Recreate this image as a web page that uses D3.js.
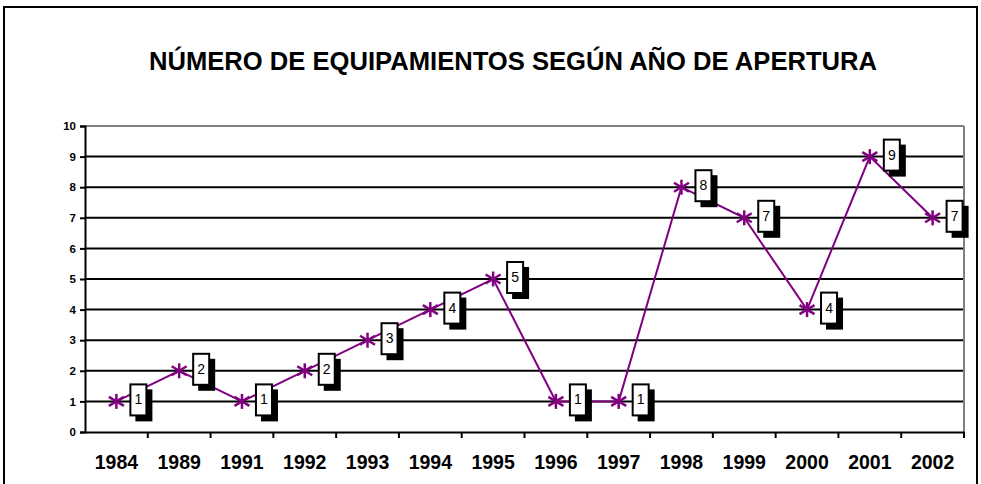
<!DOCTYPE html>
<html><head><meta charset="utf-8">
<script src="https://cdn.jsdelivr.net/npm/d3@7"></script>
<style>body{margin:0;background:#fff}svg{display:block}</style>
</head><body>
<script>
const years = ["1984","1989","1991","1992","1993","1994","1995","1996","1997","1998","1999","2000","2001","2002"];
const counts = [1,2,1,2,3,4,5,1,1,8,7,4,9,7];
const yTicks = [0,1,2,3,4,5,6,7,8,9,10];
const title = "NÚMERO DE EQUIPAMIENTOS SEGÚN AÑO DE APERTURA";

const W = 981, H = 484;
const svg = d3.select("body").append("svg").attr("width", W).attr("height", H);
const font = "Arial, 'Liberation Sans', sans-serif";

// outer frame
svg.append("rect").attr("x", 4).attr("y", 7).attr("width", 973).attr("height", 500)
  .attr("fill", "#fff").attr("stroke", "#000").attr("stroke-width", 2);

svg.append("text").attr("x", 513).attr("y", 70).attr("text-anchor", "middle")
  .attr("font-family", font).attr("font-weight", "bold").attr("font-size", 25.6)
  .text(title);

const L = 85, R = 964, T = 126, B = 432;
const x = d3.scaleBand().domain(years).range([L, R]);
const y = d3.scaleLinear().domain([0, 10]).range([B, T]);

// grid
svg.append("g").selectAll("line").data(yTicks.filter(d => d > 0 && d < 10)).join("line")
  .attr("x1", L).attr("x2", R).attr("y1", d => y(d)).attr("y2", d => y(d))
  .attr("stroke", "#000").attr("stroke-width", 2);
// plot border top/right grey
svg.append("line").attr("x1", L).attr("x2", R).attr("y1", y(10)).attr("y2", y(10)).attr("stroke", "#808080").attr("stroke-width", 2);
svg.append("line").attr("x1", R).attr("x2", R).attr("y1", y(10)).attr("y2", B).attr("stroke", "#808080").attr("stroke-width", 2);

// y axis
const ya = svg.append("g").attr("transform", `translate(${L},0)`)
  .call(d3.axisLeft(y).tickValues(yTicks).tickSize(5).tickPadding(4).tickFormat(d3.format("d")));
ya.select(".domain").attr("stroke", "#000").attr("stroke-width", 2);
ya.selectAll(".tick line").attr("stroke", "#000").attr("stroke-width", 2);
ya.selectAll("text").attr("font-family", font).attr("font-weight", "bold").attr("font-size", 11.5).attr("fill", "#000");

// x axis
const xa = svg.append("g").attr("transform", `translate(0,${B})`)
  .call(d3.axisBottom(x).tickSize(0).tickPadding(23));
xa.select(".domain").attr("stroke", "#000").attr("stroke-width", 2);
xa.selectAll("text").attr("font-family", font).attr("font-weight", "bold").attr("font-size", 19.5).attr("fill", "#000");
xa.append("g").selectAll("line").data(years).join("line")
  .attr("x1", d => x(d) + x.bandwidth()).attr("x2", d => x(d) + x.bandwidth())
  .attr("y1", 0).attr("y2", 6).attr("stroke", "#000").attr("stroke-width", 2);

const px = (d, i) => x(years[i]) + x.bandwidth() / 2;
const line = d3.line().x((d, i) => px(d, i)).y(d => y(d));
svg.append("path").datum(counts).attr("d", line).attr("fill", "none")
  .attr("stroke", "#800080").attr("stroke-width", 2);

// star markers (asterisk: vertical + two diagonals)
const mk = svg.append("g").selectAll("g").data(counts).join("g")
  .attr("transform", (d, i) => `translate(${px(d, i)},${y(d)})`);
const s = 7.5;
[[0,-s,0,s],[-s,-s*0.6,s,s*0.6],[-s,s*0.6,s,-s*0.6]].forEach(c => {
  mk.append("line").attr("x1", c[0]).attr("y1", c[1]).attr("x2", c[2]).attr("y2", c[3])
    .attr("stroke", "#800080").attr("stroke-width", 2.5);
});

// labels
const lb = svg.append("g").selectAll("g").data(counts).join("g")
  .attr("transform", (d, i) => `translate(${px(d, i) + 14},${y(d) - 17})`);
lb.append("rect").attr("x", 5).attr("y", 5).attr("width", 17).attr("height", 32).attr("fill", "#000");
lb.append("rect").attr("x", 0).attr("y", 0).attr("width", 16).attr("height", 31)
  .attr("fill", "#fff").attr("stroke", "#000").attr("stroke-width", 2);
lb.append("text").attr("x", 8).attr("y", 15).attr("text-anchor", "middle").attr("dominant-baseline", "central")
  .attr("font-family", font).attr("font-size", 14).attr("fill", "#000").text(d => d);
</script>
</body></html>
